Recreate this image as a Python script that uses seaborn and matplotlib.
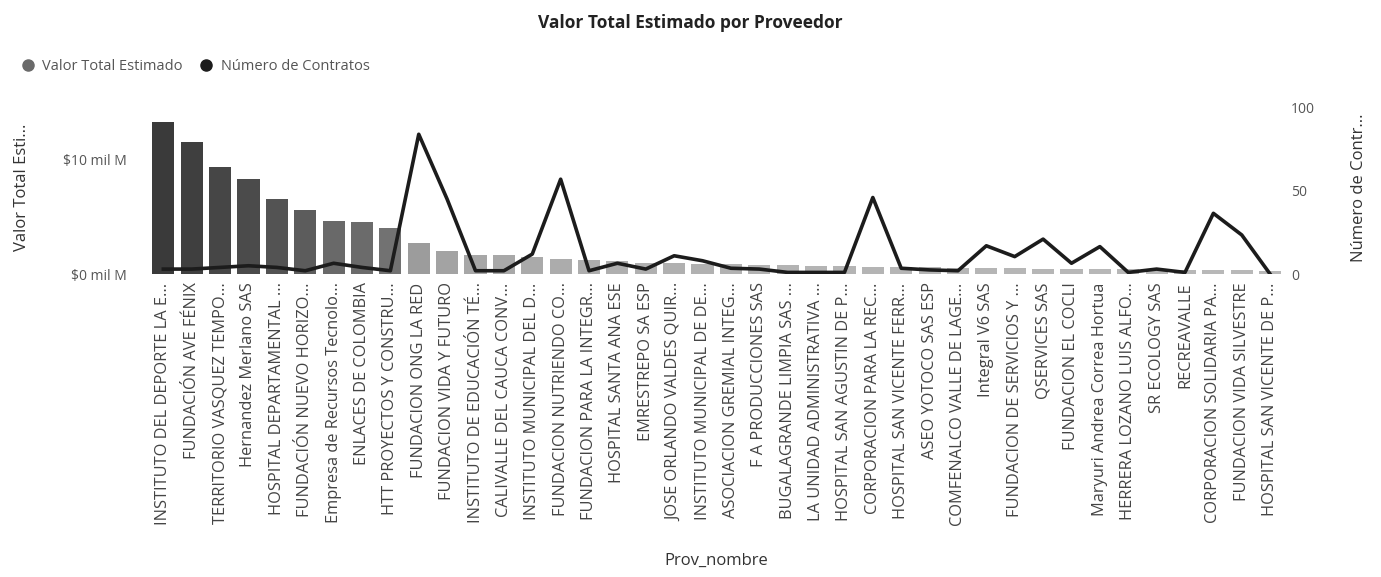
import numpy as np
import matplotlib
matplotlib.use("Agg")
import matplotlib.pyplot as plt
import seaborn as sns
import pandas as pd
from matplotlib.colors import LinearSegmentedColormap, Normalize
from matplotlib.lines import Line2D

# Data
proveedores = [
    "INSTITUTO DEL DEPORTE LA E...", "FUNDACIÓN AVE FÉNIX", "TERRITORIO VASQUEZ TEMPO...",
    "Hernandez Merlano SAS", "HOSPITAL DEPARTAMENTAL ...", "FUNDACIÓN NUEVO HORIZO...",
    "Empresa de Recursos Tecnolo...", "ENLACES DE COLOMBIA", "HTT PROYECTOS Y CONSTRU...",
    "FUNDACION ONG LA RED", "FUNDACION VIDA Y FUTURO", "INSTITUTO DE EDUCACIÓN TÉ...",
    "CALIVALLE DEL CAUCA CONV...", "INSTITUTO MUNICIPAL DEL D...", "FUNDACION NUTRIENDO CO...",
    "FUNDACION PARA LA INTEGR...", "HOSPITAL SANTA ANA ESE", "EMRESTREPO SA ESP",
    "JOSE ORLANDO VALDES QUIR...", "INSTITUTO MUNICIPAL DE DE...", "ASOCIACION GREMIAL INTEG...",
    "F A PRODUCCIONES SAS", "BUGALAGRANDE LIMPIA SAS ...", "LA UNIDAD ADMINISTRATIVA ...",
    "HOSPITAL SAN AGUSTIN DE P...", "CORPORACION PARA LA REC...", "HOSPITAL SAN VICENTE FERR...",
    "ASEO YOTOCO SAS ESP", "COMFENALCO VALLE DE LAGE...", "Integral V6 SAS",
    "FUNDACION DE SERVICIOS Y ...", "QSERVICES SAS", "FUNDACION EL COCLI",
    "Maryuri Andrea Correa Hortua", "HERRERA LOZANO LUIS ALFO...", "SR ECOLOGY SAS",
    "RECREAVALLE", "CORPORACION SOLIDARIA PA...", "FUNDACION VIDA SILVESTRE",
    "HOSPITAL SAN VICENTE DE P...",
]
# miles de millones (mil M)
valor_total = [
    13.3, 11.5, 9.3, 8.3, 6.55, 5.6, 4.65, 4.5, 4.0, 2.75,
    2.05, 1.7, 1.65, 1.45, 1.3, 1.2, 1.1, 1.0, 0.95, 0.9,
    0.85, 0.8, 0.75, 0.7, 0.68, 0.65, 0.6, 0.58, 0.55, 0.52,
    0.5, 0.48, 0.45, 0.43, 0.4, 0.38, 0.36, 0.34, 0.32, 0.3,
]
num_contratos = [
    3, 3, 4, 5, 4, 2, 6.5, 4, 2, 84,
    45, 2, 2, 12, 57, 2, 6.5, 3, 11, 8,
    3.5, 3, 1, 1, 1, 46, 3.5, 2.5, 2, 17,
    10.5, 21, 6.5, 16.5, 1, 3, 1, 36.5, 23.5, 0,
]

df = pd.DataFrame({"Prov_nombre": proveedores,
                   "valor": np.array(valor_total) * 1e9,
                   "contratos": num_contratos})

plt.rcParams["font.family"] = ["Open Sans", "DejaVu Sans"]
fig = plt.figure(figsize=(13.81, 5.77), dpi=100)
ax = fig.add_axes([0.108, 0.525, 0.822, 0.30])

# bar colour follows the value (dark for large, light gray for small)
cmap = LinearSegmentedColormap.from_list(
    "grays", [(0, "#b8b8b8"), (0.1, "#a8a8a8"), (0.2, "#9a9a9a"), (0.28, "#727272"),
              (0.45, "#555555"), (0.7, "#464646"), (1, "#3a3a3a")])
norm = Normalize(vmin=min(valor_total), vmax=max(valor_total))
palette = {p: cmap(norm(v)) for p, v in zip(proveedores, valor_total)}

sns.barplot(data=df, x="Prov_nombre", y="valor", hue="Prov_nombre", palette=palette,
            width=0.78, legend=False, ax=ax, saturation=1)
ax.set_ylim(0, 15.1e9)
ax.set_yticks([0, 10e9])
ax.set_yticklabels(["$0 mil M", "$10 mil M"], fontsize=10, color="#555555")
ax.tick_params(axis="y", length=0, pad=16)
ax.tick_params(axis="x", length=0, pad=6)
ax.set_xticks(range(len(proveedores)))
ax.set_xticklabels(proveedores, rotation=90, fontsize=11.8, color="#444444")
ax.set_xlim(-0.5, len(proveedores) - 0.5)
ax.set_xlabel("Prov_nombre", fontsize=12, color="#333333")
ax.xaxis.set_label_coords(0.5, -1.61)
ax.set_ylabel("Valor Total Esti...", fontsize=12, color="#333333")
ax.yaxis.set_label_coords(-0.105, 0.5)
for s in ax.spines.values():
    s.set_visible(False)

ax2 = ax.twinx()
sns.lineplot(x=np.arange(len(proveedores)), y=num_contratos, color="#1c1c1c",
             linewidth=2.6, ax=ax2, sort=False)
ax2.set_ylim(0, 104)
ax2.set_yticks([0, 50, 100])
ax2.set_yticklabels(["0", "50", "100"], fontsize=10, color="#555555")
ax2.tick_params(axis="y", length=0, pad=5)
ax2.set_ylabel("Número de Contr...", fontsize=12, color="#333333")
ax2.yaxis.set_label_coords(1.059, 0.5)
for s in ax2.spines.values():
    s.set_visible(False)
ax.set_xlim(-0.5, len(proveedores) - 0.5)

fig.suptitle("Valor Total Estimado por Proveedor", x=0.5, y=0.975,
             fontsize=12.5, fontweight="bold", color="#222222")

handles = [
    Line2D([], [], marker="o", linestyle="", color="#6a6a6a", markersize=8),
    Line2D([], [], marker="o", linestyle="", color="#1c1c1c", markersize=8),
]
fig.legend(handles, ["Valor Total Estimado", "Número de Contratos"], loc="upper left",
           bbox_to_anchor=(0.0, 0.92), ncol=2, frameon=False, fontsize=10.5,
           handletextpad=0.0, columnspacing=0.6, labelcolor="#555555")

plt.savefig("out.png", dpi=100)
